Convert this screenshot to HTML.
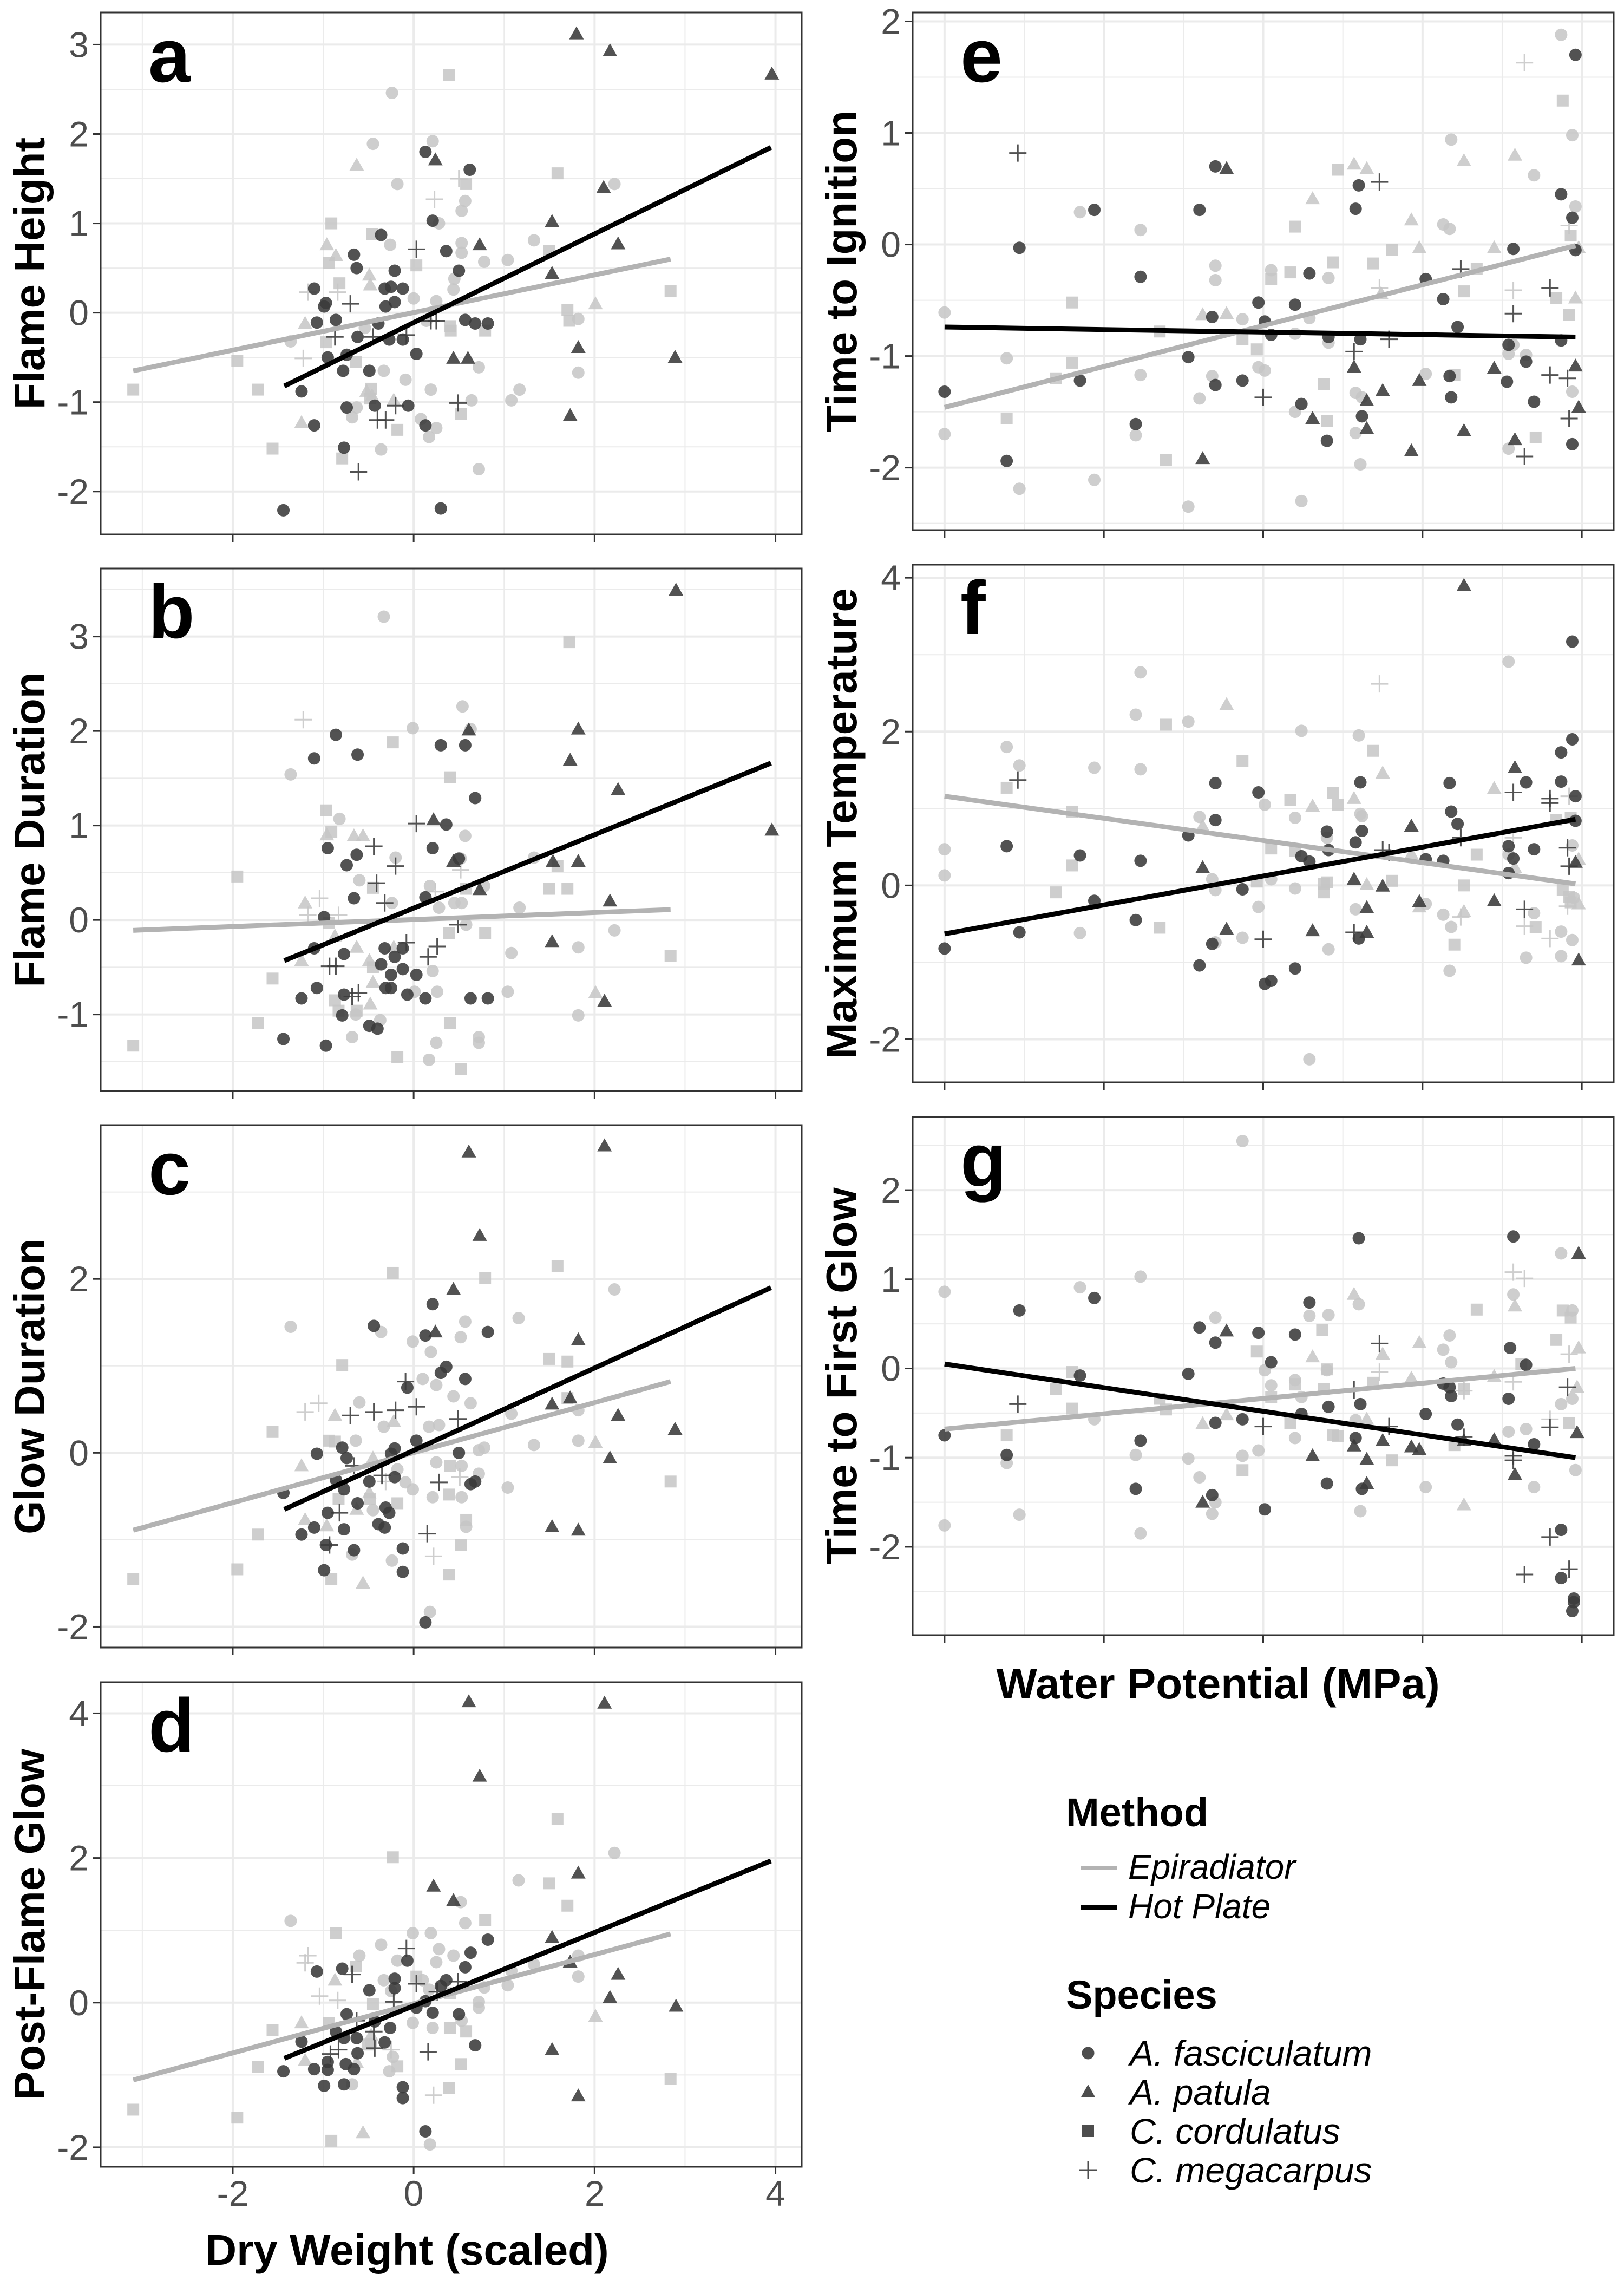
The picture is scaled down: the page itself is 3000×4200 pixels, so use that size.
<!DOCTYPE html>
<html><head><meta charset="utf-8">
<style>
html,body{margin:0;padding:0;background:#fff;}
svg{display:block;font-family:"Liberation Sans",Arial,sans-serif;}
</style></head>
<body>
<svg id="fig" width="3000" height="4200" viewBox="0 0 3000 4200" xmlns="http://www.w3.org/2000/svg">
<rect x="0" y="0" width="3000" height="4200" fill="#fff"/>
</svg>
<script>
// ---------- DATA (species: c=A. fasciculatum, t=A. patula, s=C. cordulatus, p=C. megacarpus) ----------
const aHot = {
 t:[[1.80,3.12],[2.17,2.93],[3.96,2.67],[0.24,1.71],[2.10,1.40],[1.53,1.02],[2.26,0.77],[0.73,0.76],[1.53,0.44],[1.82,-0.39],[2.89,-0.50],[0.44,-0.51],[0.60,-0.51],[1.73,-1.15]],
 c:[[0.13,1.80],[0.62,1.60],[0.21,1.03],[-0.36,0.87],[-0.66,0.65],[0.36,0.69],[-0.63,0.50],[-0.21,0.47],[0.50,0.47],[-1.10,0.27],[-0.32,0.27],[-0.25,0.29],[-0.12,0.27],[-0.97,0.11],[-0.21,0.12],[-0.31,0.07],[-0.99,0.07],[-1.07,-0.11],[-0.86,-0.08],[-0.39,-0.12],[0.57,-0.08],[0.68,-0.12],[0.82,-0.12],[-0.62,-0.27],[-0.27,-0.30],[-0.12,-0.30],[-0.74,-0.47],[-0.95,-0.50],[0.03,-0.46],[-0.78,-0.65],[-0.49,-0.65],[-1.24,-0.88],[-0.43,-1.04],[-0.74,-1.06],[-0.06,-1.04],[-1.10,-1.26],[0.13,-1.26],[-0.77,-1.51],[-1.44,-2.21],[0.30,-2.19]],
 s:[],
 p:[[0.03,0.71],[-0.70,0.10],[-0.87,-0.27],[-0.45,-0.27],[-0.08,-0.25],[0.19,-0.09],[0.25,-0.09],[-0.20,-1.04],[-0.40,-1.20],[-0.31,-1.20],[0.49,-1.01],[-0.61,-1.78]]
};
const aEpi = {
 c:[[-0.24,2.46],[-0.45,1.89],[0.21,1.92],[-0.18,1.44],[2.22,1.44],[0.57,1.25],[0.53,1.14],[0.28,1.00],[1.33,0.81],[0.53,0.78],[-0.26,0.76],[0.53,0.67],[0.78,0.57],[1.04,0.59],[0.45,0.38],[0.44,0.26],[0,0.16],[0.25,0.13],[1.82,-0.07],[0.14,-0.09],[-1.36,-0.32],[0.72,-0.61],[1.82,-0.67],[-0.33,-0.65],[-0.09,-0.75],[0.19,-0.86],[1.17,-0.86],[0.64,-0.98],[1.08,-0.98],[-0.68,-1.17],[0.08,-1.19],[0.25,-1.29],[0.17,-1.39],[-0.36,-1.53],[0.72,-1.75],[-0.63,-1.06],[-0.54,-0.17]],
 s:[[0.39,2.66],[1.59,1.56],[0.58,1.44],[-0.91,1.00],[-0.46,0.88],[-0.94,0.56],[0.03,0.53],[-0.82,0.33],[1.50,0.69],[2.84,0.24],[1.70,0.03],[1.72,-0.09],[0.40,-0.15],[0.41,-0.20],[0.79,-0.20],[-0.97,-0.33],[-1.95,-0.54],[-0.64,-0.55],[-3.10,-0.86],[-1.72,-0.86],[-0.47,-0.85],[0.52,-1.13],[-0.18,-1.31],[-1.56,-1.52],[-0.79,-1.63],[-0.48,-0.96]],
 t:[[-0.63,1.65],[-0.96,0.76],[-0.86,0.64],[-0.49,0.42],[-0.48,0.31],[-1.20,-0.12],[2.01,0.10],[-0.52,-0.88],[-0.46,-0.93],[-0.22,-0.98],[-1.24,-1.23]],
 p:[[0.50,1.50],[0.23,1.27],[-1.17,0.23],[-0.84,0.23],[-1.22,-0.51]]
};
const aFitEpi = [-3.10,-0.65, 2.84,0.60];
const aFitHot = [-1.43,-0.82, 3.95,1.85];

const bHot = {
 t:[[2.90,3.49],[1.82,2.02],[0.61,2.01],[1.73,1.69],[2.26,1.38],[3.96,0.95],[0.22,1.06],[1.54,0.62],[1.82,0.62],[0.44,0.62],[0.73,0.32],[2.17,0.20],[1.53,-0.23],[2.11,-0.86]],
 c:[[-0.86,1.96],[-0.62,1.75],[-1.10,1.71],[0.30,1.85],[0.57,1.85],[0.68,1.29],[0.36,1.01],[-0.95,0.76],[0.21,0.76],[-0.63,0.69],[-0.74,0.58],[0.50,0.65],[-0.66,0.23],[0.13,0.24],[-0.99,0.03],[-1.10,-0.30],[-0.77,-0.36],[-0.32,-0.30],[-0.12,-0.30],[-0.21,-0.39],[-0.36,-0.47],[-0.12,-0.52],[-0.25,-0.58],[0.03,-0.58],[-1.07,-0.72],[-0.31,-0.72],[-0.25,-0.72],[-1.24,-0.83],[-0.77,-0.79],[-0.07,-0.79],[0.13,-0.83],[0.63,-0.83],[0.82,-0.83],[-0.79,-1.01],[-0.49,-1.12],[-0.40,-1.15],[-1.44,-1.26],[-0.97,-1.33]],
 s:[],
 p:[[0.03,1.02],[-0.44,0.78],[-0.20,0.57],[-0.41,0.39],[-0.32,0.18],[0.49,-0.05],[-0.08,-0.24],[0.26,-0.28],[0.16,-0.39],[-0.86,-0.49],[-0.93,-0.49],[-0.61,-0.77],[-0.68,-0.81]]
};
const bEpi = {
 c:[[-0.33,3.21],[0.54,2.26],[-0.01,2.03],[0.63,2.02],[-1.36,1.54],[-0.82,1.07],[0.57,0.89],[1.33,0.66],[-0.20,0.66],[0.52,0.65],[-0.60,0.42],[0.18,0.36],[0.78,0.36],[-0.24,0.18],[0.45,0.18],[0.53,0.18],[0.28,0.13],[1.17,0.13],[0.58,-0.05],[2.22,-0.11],[1.08,-0.35],[1.82,-0.29],[0.21,-0.54],[0.01,-0.76],[0.26,-0.76],[1.04,-0.76],[1.82,-1.01],[-0.64,-1.00],[-0.37,-1.06],[-0.68,-1.24],[0.25,-1.30],[0.72,-1.24],[0.72,-1.30],[0.17,-1.48]],
 s:[[1.72,2.94],[-0.23,1.88],[0.40,1.51],[-0.97,1.16],[-0.91,0.93],[-1.95,0.46],[1.59,0.57],[1.50,0.33],[1.70,0.33],[-0.45,0.34],[0.58,0.33],[-0.94,-0.03],[0.39,-0.14],[0.79,-0.14],[2.84,-0.38],[-0.45,-0.50],[-1.56,-0.62],[-0.87,-0.85],[-0.83,-0.96],[-0.63,-0.96],[-1.72,-1.09],[0.40,-1.09],[-3.10,-1.33],[-0.18,-1.45],[0.52,-1.58]],
 t:[[-0.96,0.90],[-0.66,0.89],[-0.56,0.89],[-1.20,0.18],[-0.87,-0.17],[-0.63,-0.29],[-1.24,-0.43],[-0.49,-0.43],[-0.45,-0.66],[-0.48,-0.89],[2.01,-0.77],[-0.22,-0.29]],
 p:[[-1.22,2.12],[-1.04,0.23],[-1.17,0.05],[-0.83,0.05],[0.52,0.53],[0.24,0.30]]
};
const bFitEpi = [-3.10,-0.11, 2.84,0.11];
const bFitHot = [-1.43,-0.43, 3.95,1.66];

const cHot = {
 t:[[0.61,3.46],[2.11,3.53],[0.73,2.50],[0.44,1.88],[0.24,1.39],[1.82,1.30],[1.53,0.56],[1.73,0.63],[2.26,0.43],[2.89,0.27],[2.17,-0.06],[1.53,-0.85],[1.82,-0.89]],
 c:[[0.21,1.71],[-0.44,1.46],[0.13,1.35],[0.82,1.39],[0.36,0.99],[0.30,0.92],[0.57,0.85],[-0.07,0.75],[0.03,0.14],[-0.79,0.06],[-0.21,0.05],[-1.07,-0.01],[-0.25,-0.01],[0.50,0.00],[-0.74,-0.06],[-0.86,-0.31],[-0.49,-0.33],[-0.21,-0.28],[0.63,-0.36],[0.68,-0.33],[-0.77,-0.42],[-1.44,-0.46],[-0.62,-0.58],[-0.31,-0.63],[-0.27,-0.69],[-0.95,-0.69],[-0.39,-0.82],[-1.10,-0.86],[-0.32,-0.86],[-0.77,-0.88],[-1.24,-0.94],[-0.97,-1.06],[-0.66,-1.12],[-0.12,-1.10],[-0.99,-1.35],[-0.12,-1.37],[0.13,-1.95]],
 s:[],
 p:[[-0.09,0.82],[0.03,0.53],[-0.20,0.49],[-0.44,0.47],[-0.70,0.43],[0.49,0.39],[-0.35,-0.26],[0.28,-0.34],[-0.82,-0.69],[0.15,-0.93],[-0.93,-1.06],[-0.66,-0.15]]
};
const cEpi = {
 c:[[-1.36,1.45],[-0.36,1.39],[0.57,1.51],[0.52,1.33],[1.16,1.55],[-0.01,1.28],[0.19,1.16],[2.22,1.88],[0.10,0.85],[0.25,0.78],[0.44,0.65],[0.63,0.57],[-0.60,0.58],[1.08,0.45],[-0.33,0.30],[0.28,0.32],[0.17,0.30],[-0.64,0.14],[1.33,0.09],[1.82,0.14],[0.78,0.06],[0.72,0.03],[-0.18,-0.19],[0.25,-0.11],[0.53,-0.15],[0.72,-0.24],[-0.09,-0.34],[-0.01,-0.42],[1.04,-0.40],[0.21,-0.51],[0.53,-0.51],[-0.45,-0.66],[0.58,-0.85],[-0.68,-1.17],[-0.24,-1.24],[0.18,-1.83],[1.82,0.49]],
 s:[[-0.23,2.07],[0.79,2.01],[1.59,2.15],[-0.79,1.01],[1.50,1.08],[1.70,1.05],[1.70,0.63],[-1.56,0.24],[-0.94,0.14],[-0.87,0.13],[0.40,-0.15],[2.84,-0.33],[0.39,-0.48],[-0.18,-0.58],[-0.83,-0.53],[-0.48,-0.53],[0.58,-0.77],[-1.72,-0.94],[0.52,-1.06],[-1.95,-1.34],[-3.10,-1.45],[-0.91,-1.45],[0.39,-1.40]],
 t:[[-0.87,0.43],[-0.22,0.36],[2.01,0.12],[-0.45,-0.06],[-1.24,-0.15],[-0.49,-0.46],[-0.63,-0.65],[-1.20,-0.77],[-0.96,-0.84],[-0.56,-1.50]],
 p:[[-1.20,0.47],[-1.05,0.57],[-0.31,-0.33],[0.51,-0.28],[0.22,-1.19]]
};
const cFitEpi = [-3.10,-0.89, 2.84,0.82];
const cFitHot = [-1.43,-0.65, 3.95,1.90];

const dHot = {
 t:[[0.61,4.16],[2.11,4.14],[0.73,3.13],[0.22,1.61],[0.44,1.41],[1.82,1.79],[1.53,0.90],[2.26,0.39],[1.73,0.56],[2.17,0.07],[2.90,-0.05],[1.53,-0.65],[1.82,-1.29]],
 c:[[0.82,0.87],[0.63,0.69],[-0.07,0.58],[0.57,0.49],[-1.07,0.43],[-0.79,0.47],[0.36,0.31],[-0.21,0.33],[-0.49,0.17],[-0.21,0.20],[0.30,0.23],[0.13,0.02],[0.03,-0.07],[-0.74,-0.16],[0.21,-0.14],[0.50,-0.16],[-0.43,-0.26],[-0.26,-0.35],[-0.86,-0.40],[-0.77,-0.49],[-0.63,-0.49],[-1.24,-0.54],[-0.32,-0.55],[0.68,-0.59],[-0.62,-0.70],[-0.95,-0.82],[-0.75,-0.85],[-1.10,-0.92],[-0.95,-0.93],[-0.66,-0.92],[-1.44,-0.95],[-0.99,-1.15],[-0.77,-1.13],[-0.12,-1.17],[-0.12,-1.32],[0.13,-1.78]],
 s:[],
 p:[[-0.08,0.75],[-0.68,0.39],[0.03,0.26],[0.26,0.15],[-0.22,0.01],[-0.63,-0.25],[-0.44,-0.40],[-0.43,-0.63],[-0.83,-0.65],[-0.92,-0.71],[0.16,-0.68],[0.49,0.29]]
};
const dEpi = {
 c:[[2.22,2.07],[1.16,1.69],[0.52,1.39],[-1.36,1.13],[0.57,1.10],[-0.01,0.96],[0.19,0.96],[-0.36,0.80],[-0.60,0.65],[0.28,0.74],[0.44,0.65],[1.82,0.65],[-0.18,0.58],[0.25,0.56],[1.33,0.53],[1.08,0.44],[1.82,0.36],[-0.33,0.31],[0.10,0.31],[-0.25,0.16],[0.78,0.21],[1.04,0.24],[0.17,0.18],[0.72,0.01],[0.72,-0.07],[-0.01,-0.28],[0.21,-0.35],[0.53,-0.25],[-0.23,-0.75],[-0.27,-0.95],[-0.68,-1.13],[0.18,-1.96],[-0.47,-0.57]],
 s:[[-0.23,2.01],[1.59,2.54],[1.50,1.65],[1.70,1.34],[0.79,1.14],[-0.86,0.96],[-0.64,0.50],[0.03,0.36],[0.40,0.13],[-0.45,-0.02],[-0.94,-0.28],[-1.56,-0.38],[0.40,-0.35],[0.58,-0.40],[-0.51,-0.58],[-0.18,-0.88],[0.52,-0.85],[-1.72,-0.89],[0.39,-1.18],[2.84,-1.05],[-3.10,-1.48],[-1.95,-1.59],[-0.91,-1.91]],
 t:[[-0.87,0.31],[-1.24,-0.28],[2.01,-0.19],[-1.20,-0.80],[-0.63,-0.83],[-0.56,-1.80],[-0.47,-0.45]],
 p:[[-1.20,0.55],[-1.17,0.65],[-1.04,0.09],[-0.84,0.03],[0.22,-1.28],[-0.25,-0.65]]
};
const dFitEpi = [-3.10,-1.07, 2.84,0.95];
const dFitHot = [-1.43,-0.77, 3.95,1.96];

const eHot = {
 c:[[0,-1.32],[0.47,-0.03],[0.39,-1.94],[0.94,0.31],[0.85,-1.22],[1.23,-0.29],[1.20,-1.61],[1.53,-1.01],[1.60,0.31],[1.70,0.70],[1.68,-0.65],[1.70,-1.26],[1.87,-1.22],[1.97,-0.52],[2.01,-0.69],[2.05,-0.81],[2.20,-0.54],[2.29,-0.26],[2.24,-1.43],[2.40,-1.76],[2.41,-0.83],[2.58,0.32],[2.60,0.53],[2.61,-0.85],[2.62,-1.54],[3.02,-0.31],[3.13,-0.49],[3.17,-1.18],[3.18,-1.37],[3.22,-0.74],[3.54,-0.90],[3.53,-1.23],[3.57,-0.04],[3.65,-1.05],[3.70,-1.41],[3.87,0.45],[3.94,0.24],[3.96,1.70],[3.96,-0.05],[3.87,-0.86],[3.94,-1.79]],
 t:[[1.77,0.68],[1.62,-1.92],[2.31,-1.56],[2.57,-1.10],[2.65,-1.40],[2.65,-1.65],[2.75,-1.31],[2.98,-1.22],[2.93,-1.85],[3.26,-1.67],[3.45,-1.11],[3.58,-1.75],[3.96,-1.09],[3.98,-1.46]],
 s:[],
 p:[[0.46,0.82],[2.73,0.56],[2.00,-1.37],[2.79,-0.85],[2.57,-0.96],[3.24,-0.22],[3.57,-0.62],[3.80,-0.39],[3.80,-1.17],[3.91,-1.20],[3.92,-1.56],[3.64,-1.90]]
};
const eEpi = {
 c:[[0,-0.61],[0,-1.70],[0.39,-1.02],[0.47,-2.19],[0.85,0.29],[0.94,-2.11],[1.23,0.13],[1.23,-1.17],[1.20,-1.71],[1.53,-2.35],[1.60,-1.38],[1.68,-1.18],[1.70,-0.19],[1.70,-0.32],[1.87,-0.67],[1.97,-1.10],[2.01,-1.13],[2.05,-0.23],[2.20,-0.80],[2.20,-1.50],[2.24,-2.30],[2.29,-0.66],[2.41,-0.30],[2.41,-0.88],[2.58,-1.33],[2.58,-1.69],[2.61,-1.97],[2.62,-1.37],[3.02,-1.16],[3.13,0.18],[3.17,0.14],[3.18,0.94],[3.54,-0.98],[3.54,-1.83],[3.57,-0.90],[3.65,-0.99],[3.70,0.62],[3.87,1.88],[3.94,0.98],[3.96,0.34],[3.94,-1.32]],
 s:[[0.39,-1.56],[0.80,-0.52],[0.80,-1.06],[0.70,-1.20],[1.35,-0.78],[1.39,-1.93],[1.87,-0.85],[1.96,-0.94],[2.05,-0.31],[2.17,-0.25],[2.20,0.16],[2.38,-1.25],[2.40,-1.58],[2.44,-0.16],[2.47,0.67],[2.69,-0.17],[2.81,-0.05],[3.20,-1.17],[3.26,-0.42],[3.34,-0.22],[3.71,-1.73],[3.84,-0.48],[3.88,1.29],[3.92,-0.63],[3.93,0.08]],
 t:[[1.77,-0.62],[1.62,-0.63],[2.31,0.41],[2.57,0.72],[2.65,0.68],[2.74,-0.44],[2.93,0.22],[2.98,-0.03],[3.26,0.75],[3.45,-0.03],[3.58,0.80],[3.96,-0.48],[3.98,-0.03]],
 p:[[3.64,1.63],[2.73,-0.39],[3.57,-0.41],[3.92,0.17]]
};
const eFitEpi = [0,-1.46, 3.96,-0.01];
const eFitHot = [0,-0.74, 3.96,-0.83];

const fHot = {
 c:[[0,-0.82],[0.39,0.51],[0.47,-0.61],[0.85,0.39],[0.94,-0.20],[1.23,0.32],[1.20,-0.45],[1.53,0.65],[1.60,-1.04],[1.70,1.33],[1.70,0.85],[1.68,-0.76],[1.87,-0.05],[1.97,1.21],[2.01,-1.28],[2.05,-1.24],[2.20,-1.08],[2.24,0.38],[2.29,0.31],[2.40,0.70],[2.41,0.46],[2.58,0.56],[2.61,1.34],[2.62,0.71],[2.60,-0.69],[3.02,0.34],[3.13,0.32],[3.17,1.33],[3.18,0.96],[3.22,0.80],[3.54,0.51],[3.54,0.16],[3.57,0.35],[3.65,1.34],[3.70,0.47],[3.87,1.73],[3.87,1.35],[3.94,1.90],[3.94,3.17],[3.96,1.16],[3.96,0.84]],
 t:[[3.26,3.90],[1.62,0.23],[1.77,-0.57],[2.31,-0.59],[2.57,0.08],[2.65,-0.29],[2.65,-0.61],[2.75,-0.01],[2.93,0.77],[2.98,-0.21],[3.45,-0.20],[3.58,1.53],[3.96,0.30],[3.98,-0.97]],
 s:[],
 p:[[0.46,1.37],[2.00,-0.70],[2.57,-0.61],[2.75,0.46],[2.79,0.43],[3.24,0.62],[3.57,1.21],[3.80,1.13],[3.80,1.07],[3.91,0.49],[3.92,0.25],[3.64,-0.31]]
};
const fEpi = {
 c:[[0,0.47],[0,0.13],[0.39,1.80],[0.47,1.56],[0.85,-0.62],[0.94,1.53],[1.23,2.77],[1.20,2.22],[1.23,1.51],[1.53,2.13],[1.60,0.89],[1.68,0.08],[1.70,-0.06],[1.70,-0.74],[1.87,-0.68],[1.97,-0.28],[2.01,1.05],[2.05,0.08],[2.20,0.88],[2.20,-0.04],[2.24,2.01],[2.29,-2.26],[2.40,0.62],[2.41,-0.83],[2.58,-0.31],[2.60,1.95],[2.61,0.93],[2.62,0.90],[3.02,-0.24],[3.13,-0.38],[3.18,-0.54],[3.17,-1.11],[3.54,2.91],[3.54,0.40],[3.65,-0.94],[3.70,-0.36],[3.87,-0.60],[3.87,-0.92],[3.94,-0.71],[3.94,0.52],[3.95,-0.16]],
 s:[[0.39,1.27],[0.80,0.96],[0.80,0.26],[0.70,-0.09],[1.35,-0.55],[1.39,2.09],[1.87,1.62],[1.96,0.05],[2.05,0.48],[2.17,1.11],[2.20,0.45],[2.38,0.02],[2.40,0.04],[2.38,-0.09],[2.44,1.20],[2.47,1.05],[2.69,1.75],[2.81,0.06],[3.20,-0.77],[3.26,0.00],[3.34,0.40],[3.71,-0.54],[3.84,0.85],[3.88,-0.06],[3.92,-0.15],[3.93,0.88],[3.93,-0.22]],
 t:[[1.62,0.77],[1.77,2.35],[2.31,1.03],[2.57,1.13],[2.65,0.01],[2.75,1.46],[2.93,0.41],[2.98,-0.28],[3.26,-0.34],[3.45,1.26],[3.58,0.23],[3.98,0.34],[3.98,-0.24]],
 p:[[2.73,2.62],[3.57,0.62],[3.64,-0.53],[3.80,-0.69],[3.91,-0.27],[3.92,1.16],[3.24,-0.41]]
};
const fFitEpi = [0,1.16, 3.96,0.02];
const fFitHot = [0,-0.63, 3.96,0.86];

const gHot = {
 c:[[0,-0.75],[0.47,0.65],[0.39,-0.97],[0.85,-0.08],[0.94,0.79],[1.20,-1.35],[1.23,-0.81],[1.53,-0.06],[1.60,0.46],[1.70,0.29],[1.70,-0.61],[1.68,-1.42],[1.87,-0.57],[1.97,0.40],[2.05,0.07],[2.01,-1.58],[2.20,0.38],[2.24,-0.51],[2.29,0.74],[2.41,-0.43],[2.40,-1.29],[2.58,-0.78],[2.60,1.46],[2.61,-0.40],[2.62,-1.35],[3.02,-0.51],[3.13,-0.17],[3.17,-0.21],[3.18,-0.31],[3.22,-0.63],[3.54,-0.34],[3.55,0.23],[3.57,1.48],[3.65,0.04],[3.70,-0.85],[3.87,-1.81],[3.87,-2.35],[3.95,-2.58],[3.94,-2.72],[3.95,-2.62]],
 t:[[1.77,0.42],[1.62,-1.50],[2.31,-0.98],[2.57,-0.87],[2.65,-1.02],[2.65,-1.29],[2.75,-0.81],[2.93,-0.88],[2.98,-0.91],[3.26,-0.81],[3.45,-0.80],[3.58,-1.19],[3.98,1.29],[3.97,-0.72]],
 s:[],
 p:[[0.46,-0.40],[2.00,-0.65],[2.57,-0.24],[2.73,0.28],[2.79,-0.65],[3.26,-0.77],[3.57,-0.98],[3.57,-1.03],[3.80,-0.66],[3.80,-1.89],[3.64,-2.31],[3.92,-2.25],[3.91,-0.21]]
};
const gEpi = {
 c:[[0,0.86],[0,-1.76],[0.39,-1.06],[0.47,-1.64],[0.85,0.91],[0.94,-0.57],[1.23,1.03],[1.20,-0.97],[1.23,-1.85],[1.53,-1.01],[1.60,-1.22],[1.70,0.57],[1.70,-1.50],[1.68,-1.63],[1.87,2.55],[1.87,-0.98],[1.97,-0.92],[2.01,-0.02],[2.05,-0.19],[2.20,-0.78],[2.20,-0.13],[2.24,-0.32],[2.29,0.59],[2.41,0.60],[2.40,-0.02],[2.58,-0.58],[2.60,0.72],[2.61,-1.60],[3.02,-1.33],[3.13,0.21],[3.17,0.37],[3.18,0.07],[3.54,-0.71],[3.57,0.83],[3.65,-0.68],[3.70,-1.33],[3.87,1.29],[3.94,0.65],[3.87,-0.40],[3.94,-0.34],[3.96,-1.14]],
 s:[[0.39,-0.75],[0.80,-0.04],[0.80,-0.45],[0.70,-0.23],[1.35,-0.34],[1.39,-0.46],[1.87,-1.14],[1.96,0.19],[2.05,-0.32],[2.17,-0.61],[2.20,-0.18],[2.38,-0.23],[2.40,-0.01],[2.37,0.43],[2.44,-0.75],[2.47,-0.76],[2.69,-0.16],[2.81,-1.03],[3.20,-0.86],[3.26,-0.23],[3.34,0.66],[3.62,0.05],[3.84,0.32],[3.88,0.65],[3.92,-0.61],[3.93,0.57]],
 t:[[1.62,-0.62],[1.77,-0.52],[2.31,0.13],[2.57,0.83],[2.65,-0.57],[2.75,0.16],[2.93,-0.11],[2.98,0.29],[3.26,-1.53],[3.45,-0.09],[3.58,0.70],[3.98,0.23],[3.97,-0.21]],
 p:[[3.57,1.08],[3.64,1.01],[3.92,0.16],[3.80,-0.57],[2.73,-0.04],[3.26,-0.25],[3.57,-0.15]]
};
const gFitEpi = [0,-0.68, 3.96,0];
const gFitHot = [0,0.05, 3.96,-1.00];

// tick values
const leftXTicks = [-2, 0, 2, 4];
const leftXTickLabels = ["-2", "0", "2", "4"];
const rightXTicks = [0, 1, 2, 3, 4];
const aYTicks = [-2,-1,0,1,2,3];
const bYTicks = [-1,0,1,2,3];
const cYTicks = [-2,0,2];
const dYTicks = [-2,0,2,4];
const eYTicks = [-2,-1,0,1,2];
const fYTicks = [-2,0,2,4];
const gYTicks = [-2,-1,0,1,2];

// ---------- RENDER ----------
const NS = "http://www.w3.org/2000/svg";
const svg = document.getElementById("fig");
function mk(tag, attrs, parent) {
  const e = document.createElementNS(NS, tag);
  for (const k in attrs) e.setAttribute(k, attrs[k]);
  (parent || svg).appendChild(e);
  return e;
}
const HOT = "#3a3a3a", EPI = "#c6c6c6";

function drawSymbol(g, sp, px, py, color, op) {
  let el;
  if (sp === "c") {
    el = mk("circle", {cx:px, cy:py, r:11.5, fill:color, "fill-opacity":op}, g);
  } else if (sp === "t") {
    el = mk("path", {d:`M${px},${py-14} L${px+13.5},${py+10} L${px-13.5},${py+10} Z`, fill:color, "fill-opacity":op}, g);
  } else if (sp === "s") {
    el = mk("rect", {x:px-11, y:py-11, width:22, height:22, fill:color, "fill-opacity":op}, g);
  } else {
    el = mk("path", {d:`M${px-16},${py} H${px+16} M${px},${py-16} V${py+16}`, stroke:color, "stroke-width":3, "stroke-opacity":op, fill:"none"}, g);
  }
  return el;
}

function panel(cfg) {
  const {id, L, R, T, B, xmin, xmax, ymin, ymax, xticks, xminor, yticks, yminor, epi, hot, fitEpi, fitHot, letter, ytitle, xlabels} = cfg;
  const sx = v => L + (v - xmin) / (xmax - xmin) * (R - L);
  const sy = v => B - (v - ymin) / (ymax - ymin) * (B - T);
  const g = mk("g", {});
  
  
  const grid = mk("g", {}, g);
  
  
  xminor.forEach(v => mk("line", {x1:sx(v), x2:sx(v), y1:T, y2:B, stroke:"#ebebeb", "stroke-width":2}, grid));
  yminor.forEach(v => mk("line", {x1:L, x2:R, y1:sy(v), y2:sy(v), stroke:"#ebebeb", "stroke-width":2}, grid));
  xticks.forEach(v => mk("line", {x1:sx(v), x2:sx(v), y1:T, y2:B, stroke:"#ebebeb", "stroke-width":4}, grid));
  yticks.forEach(v => mk("line", {x1:L, x2:R, y1:sy(v), y2:sy(v), stroke:"#ebebeb", "stroke-width":4}, grid));
  [["epiradiator", epi, EPI, 0.85], ["hot-plate", hot, HOT, 0.88]].forEach(([mname, set, col, op]) => {
    ["c","s","t","p"].forEach(sp => {
      (set[sp] || []).forEach(d => {
        const el = drawSymbol(g, sp, sx(d[0]), sy(d[1]), col, op);
        
        
      });
    });
  });
  const le = mk("line", {x1:sx(fitEpi[0]), y1:sy(fitEpi[1]), x2:sx(fitEpi[2]), y2:sy(fitEpi[3]), stroke:"#b3b3b3", "stroke-width":9}, g);
  
  
  const lh = mk("line", {x1:sx(fitHot[0]), y1:sy(fitHot[1]), x2:sx(fitHot[2]), y2:sy(fitHot[3]), stroke:"#000", "stroke-width":9}, g);
  
  
  const br = mk("rect", {x:L, y:T, width:R-L, height:B-T, fill:"none", stroke:"#333", "stroke-width":3}, g);
  
  
  yticks.forEach(v => {
    mk("line", {x1:L-14, x2:L, y1:sy(v), y2:sy(v), stroke:"#333", "stroke-width":3}, g);
    const t = mk("text", {x:L-22, y:sy(v)+23, "text-anchor":"end", "font-size":66, fill:"#4d4d4d"}, g);
    t.textContent = String(v);
    
    
  });
  xticks.forEach((v, i) => {
    mk("line", {x1:sx(v), x2:sx(v), y1:B, y2:B+14, stroke:"#333", "stroke-width":3}, g);
    if (xlabels) {
      const t = mk("text", {x:sx(v), y:B+72, "text-anchor":"middle", "font-size":66, fill:"#4d4d4d"}, g);
      t.textContent = xlabels[i];
      
      
    }
  });
  const lt = mk("text", {x:L+88, y:T+128, "font-size":140, "font-weight":"bold", fill:"#000"}, g);
  lt.textContent = letter;
  
  
  const tx = L < 1000 ? 82 : 1582;
  const cy = (T + B) / 2;
  const yt = mk("text", {x:tx, y:cy, "text-anchor":"middle", "font-size":80, "font-weight":"bold", fill:"#000", transform:`rotate(-90 ${tx} ${cy})`}, g);
  yt.textContent = ytitle;
  
  
}

const LX = {L:186, R:1481, xmin:-3.46, xmax:4.29, xticks:leftXTicks, xminor:[-3,-1,1,3]};
const RX = {L:1686, R:2981, xmin:-0.2, xmax:4.2, xticks:rightXTicks, xminor:[0.5,1.5,2.5,3.5]};

panel({...LX, id:"a", T:23, B:987, ymin:-2.48, ymax:3.36, yticks:aYTicks, yminor:[-1.5,-0.5,0.5,1.5,2.5], epi:aEpi, hot:aHot, fitEpi:aFitEpi, fitHot:aFitHot, letter:"a", ytitle:"Flame Height"});
panel({...LX, id:"b", T:1050, B:2015, ymin:-1.81, ymax:3.72, yticks:bYTicks, yminor:[-1.5,-0.5,0.5,1.5,2.5,3.5], epi:bEpi, hot:bHot, fitEpi:bFitEpi, fitHot:bFitHot, letter:"b", ytitle:"Flame Duration"});
panel({...LX, id:"c", T:2078, B:3043, ymin:-2.24, ymax:3.77, yticks:cYTicks, yminor:[-1,1,3], epi:cEpi, hot:cHot, fitEpi:cFitEpi, fitHot:cFitHot, letter:"c", ytitle:"Glow Duration"});
panel({...LX, id:"d", T:3107, B:4002, ymin:-2.27, ymax:4.43, yticks:dYTicks, yminor:[-1,1,3], epi:dEpi, hot:dHot, fitEpi:dFitEpi, fitHot:dFitHot, letter:"d", ytitle:"Post-Flame Glow", xlabels:leftXTickLabels});
panel({...RX, id:"e", T:23, B:979, ymin:-2.56, ymax:2.08, yticks:eYTicks, yminor:[-2.5,-1.5,-0.5,0.5,1.5], epi:eEpi, hot:eHot, fitEpi:eFitEpi, fitHot:eFitHot, letter:"e", ytitle:"Time to Ignition"});
panel({...RX, id:"f", T:1043, B:1999, ymin:-2.56, ymax:4.17, yticks:fYTicks, yminor:[-1,1,3], epi:fEpi, hot:fHot, fitEpi:fFitEpi, fitHot:fFitHot, letter:"f", ytitle:"Maximum Temperature"});
panel({...RX, id:"g", T:2063, B:3020, ymin:-2.99, ymax:2.82, yticks:gYTicks, yminor:[-2.5,-1.5,-0.5,0.5,1.5,2.5], epi:gEpi, hot:gHot, fitEpi:gFitEpi, fitHot:gFitHot, letter:"g", ytitle:"Time to First Glow"});

const xt1 = mk("text", {x:752, y:4183, "text-anchor":"middle", "font-size":80, "font-weight":"bold", fill:"#000"});
xt1.textContent = "Dry Weight (scaled)";


const xt2 = mk("text", {x:2250, y:3137, "text-anchor":"middle", "font-size":80, "font-weight":"bold", fill:"#000"});
xt2.textContent = "Water Potential (MPa)";



const lg = mk("g", {});


const mt = mk("text", {x:1969, y:3373, "font-size":74, "font-weight":"bold", fill:"#000"}, lg);
mt.textContent = "Method";


const methods = [["Epiradiator", "#b3b3b3", 3470], ["Hot Plate", "#000", 3543]];
methods.forEach(([name, col, by]) => {
  const k = mk("line", {x1:1996, x2:2063, y1:by-20, y2:by-20, stroke:col, "stroke-width":8}, lg);
  
  
  const t = mk("text", {x:2084, y:by, "font-size":64, "font-style":"italic", fill:"#000"}, lg);
  t.textContent = name;
  
  
});
const st = mk("text", {x:1969, y:3710, "font-size":74, "font-weight":"bold", fill:"#000"}, lg);
st.textContent = "Species";


const species = [["c","A. fasciculatum",3815],["t","A. patula",3887],["s","C. cordulatus",3959],["p","C. megacarpus",4031]];
species.forEach(([sp, name, by]) => {
  const s = drawSymbol(lg, sp, 2010, by-23, "#4d4d4d", 1);
  
  
  const t = mk("text", {x:2087, y:by, "font-size":66, "font-style":"italic", fill:"#000"}, lg);
  t.textContent = name;
  
  
});
</script>
</body></html>
